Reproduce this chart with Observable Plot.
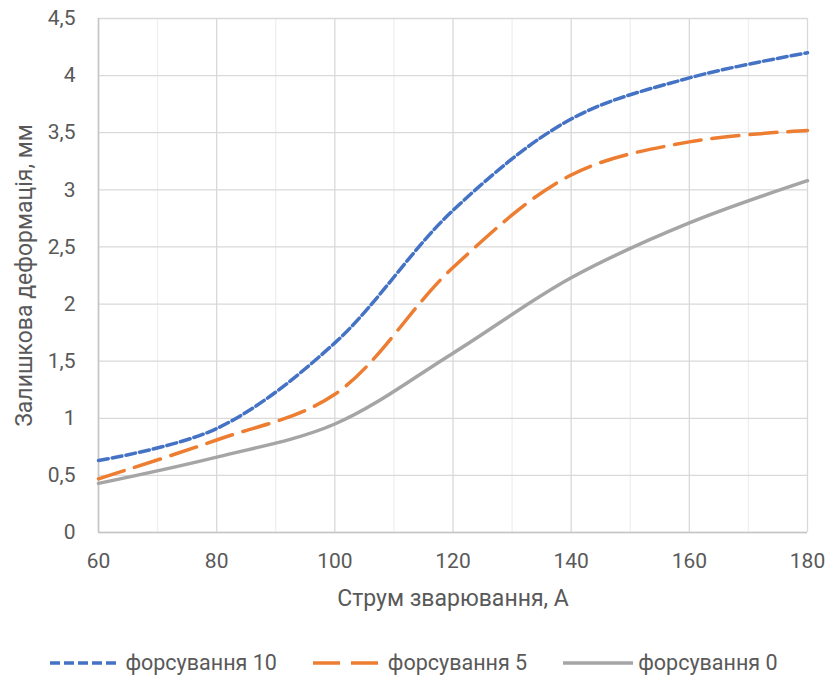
<!DOCTYPE html>
<html lang="uk">
<head>
<meta charset="utf-8">
<script src="https://cdn.jsdelivr.net/npm/d3@7"></script>
<script src="https://cdn.jsdelivr.net/npm/@observablehq/plot@0.6"></script>
<style>
  html, body { margin: 0; padding: 0; background: #fff; }
  #chart { width: 828px; height: 686px; font-family: Roboto, "Noto Sans", sans-serif; color: #595959; }
  .legend { display: flex; justify-content: center; align-items: center; gap: 36px; margin-top: 20px; font-size: 21.5px; color: #595959; }
  .legend .item { display: flex; align-items: center; gap: 5px; }
  .legend svg { display: block; }
</style>
</head>
<body>
<div id="chart"></div>
<script>
// Welding current, A
const current = [60, 80, 100, 120, 140, 160, 180];
// Residual deformation, mm, for each forcing level
const forcing10 = [0.63, 0.91, 1.66, 2.82, 3.62, 3.98, 4.20];
const forcing5  = [0.47, 0.81, 1.21, 2.32, 3.13, 3.42, 3.52];
const forcing0  = [0.43, 0.66, 0.95, 1.57, 2.23, 2.71, 3.08];

const xTicks = [60, 80, 100, 120, 140, 160, 180];
const xMinorTicks = [70, 90, 110, 130, 150, 170];
const yTicks = [0, 0.5, 1, 1.5, 2, 2.5, 3, 3.5, 4, 4.5];

const xTitle = "Струм зварювання, А";
const yTitle = "Залишкова деформація, мм";

const series = [
  {name: "форсування 10", values: forcing10, color: "#4472C4", dash: "10,4"},
  {name: "форсування 5",  values: forcing5,  color: "#ED7D31", dash: "27,11"},
  {name: "форсування 0",  values: forcing0,  color: "#A5A5A5", dash: null}
];

const rows = s => current.map((c, i) => ({x: c, y: s.values[i]}));
const fmt = d => String(d).replace(".", ",");

const chart = Plot.plot({
  width: 828,
  height: 630,
  marginTop: 18,
  marginLeft: 98,
  marginRight: 21,
  marginBottom: 98,
  style: {fontFamily: "Roboto, 'Noto Sans', sans-serif", color: "#595959", background: "#fff"},
  x: {domain: [60, 180]},
  y: {domain: [0, 4.5]},
  marks: [
    Plot.gridX(xMinorTicks, {stroke: "#efefef", strokeOpacity: 1, strokeWidth: 1.3}),
    Plot.gridX(xTicks, {stroke: "#d9d9d9", strokeOpacity: 1, strokeWidth: 1.3}),
    Plot.gridY(yTicks, {stroke: "#d9d9d9", strokeOpacity: 1, strokeWidth: 1.3}),
    Plot.ruleX([60], {stroke: "#c6c6c6", strokeWidth: 1.6}),
    Plot.ruleY([0], {stroke: "#c6c6c6", strokeWidth: 1.6}),
    ...series.map(s => Plot.line(rows(s), {
      x: "x", y: "y",
      stroke: s.color,
      strokeWidth: 3.5,
      strokeDasharray: s.dash,
      curve: "catmull-rom"
    })),
    Plot.axisX(xTicks, {tickSize: 0, tickPadding: 21, fontSize: 21, label: null, tickFormat: fmt, fill: "#595959"}),
    Plot.axisY(yTicks, {tickSize: 0, tickPadding: 23, fontSize: 21, label: null, tickFormat: fmt, fill: "#595959"}),
    Plot.text([xTitle], {frameAnchor: "bottom", dy: 73, text: d => d, fontSize: 23, fill: "#595959"}),
    Plot.text([yTitle], {frameAnchor: "left", dx: -74, rotate: -90, textAnchor: "middle", text: d => d, fontSize: 23, fill: "#595959"})
  ]
});

const root = document.getElementById("chart");
root.append(chart);

// Legend below the plot
const legend = document.createElement("div");
legend.className = "legend";
for (const s of series) {
  const item = document.createElement("div");
  item.className = "item";
  const sw = d3.create("svg").attr("width", 70).attr("height", 10);
  sw.append("line")
    .attr("x1", 0).attr("x2", 70).attr("y1", 5).attr("y2", 5)
    .attr("stroke", s.color).attr("stroke-width", 3.5)
    .attr("stroke-dasharray", s.dash);
  item.append(sw.node());
  const label = document.createElement("span");
  label.textContent = s.name;
  item.append(label);
  legend.append(item);
}
root.append(legend);
</script>
</body>
</html>
